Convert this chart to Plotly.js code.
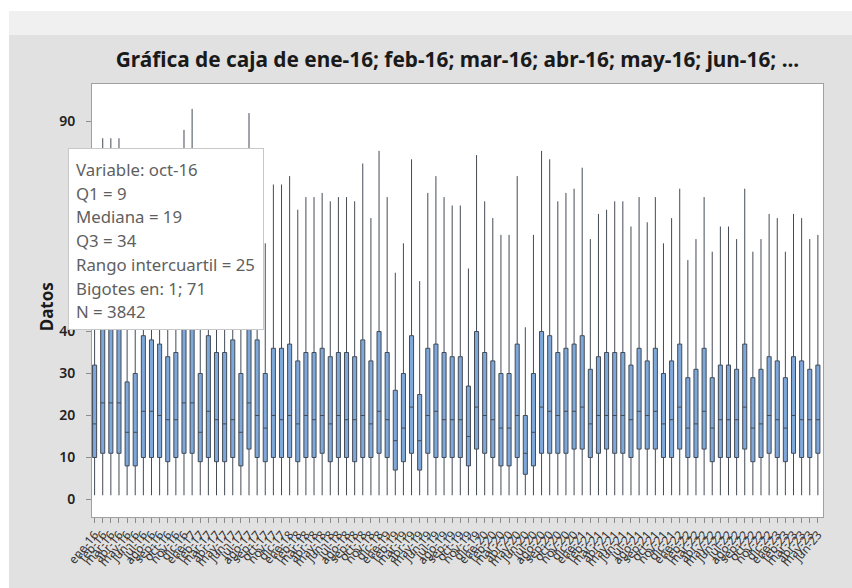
<!DOCTYPE html>
<html>
<head>
<meta charset="utf-8">
<script src="https://cdn.plot.ly/plotly-3.0.1.min.js"></script>
<style>
  html, body { margin: 0; padding: 0; background: #ffffff; width: 852px; height: 588px; overflow: hidden; }
  #strip { position: absolute; left: 9px; top: 11px; width: 843px; height: 24px; background: #f0f0f0; border-bottom: 1px solid #e6e6e6; }
  #chart { position: absolute; left: 9px; top: 35px; width: 843px; height: 553px; }
</style>
</head>
<body>
<div id="strip"></div>
<div id="chart"></div>
<script>
// Categories (months)
const categories = [
  "ene-16","feb-16","mar-16","abr-16","may-16","jun-16","jul-16","ago-16","sep-16","oct-16","nov-16","dic-16",
  "ene-17","feb-17","mar-17","abr-17","may-17","jun-17","jul-17","ago-17","sep-17","oct-17","nov-17","dic-17",
  "ene-18","feb-18","mar-18","abr-18","may-18","jun-18","jul-18","ago-18","sep-18","oct-18","nov-18","dic-18",
  "ene-19","feb-19","mar-19","abr-19","may-19","jun-19","jul-19","ago-19","sep-19","oct-19","nov-19","dic-19",
  "ene-20","feb-20","mar-20","abr-20","may-20","jun-20","jul-20","ago-20","sep-20","oct-20","nov-20","dic-20",
  "ene-21","feb-21","mar-21","abr-21","may-21","jun-21","jul-21","ago-21","sep-21","oct-21","nov-21","dic-21",
  "ene-22","feb-22","mar-22","abr-22","may-22","jun-22","jul-22","ago-22","sep-22","oct-22","nov-22","dic-22",
  "ene-23","feb-23","mar-23","abr-23","may-23","jun-23"
];

const q1 = [
  10,11,11,11,8,8,10,10,10,9,10,11,
  11,9,10,9,9,10,8,12,10,9,10,10,
  10,9,10,10,11,9,10,10,9,10,10,11,
  10,7,9,11,7,11,10,10,10,10,8,12,
  11,10,8,8,10,6,8,11,11,11,11,12,
  12,10,11,12,11,11,10,12,12,12,10,10,
  12,10,10,12,9,10,10,10,12,9,10,11,
  10,9,11,10,10,11
];

const medians = [
  18,23,23,23,16,16,21,21,20,19,19,23,
  23,16,21,19,18,19,16,23,20,17,20,19,
  20,18,20,19,20,18,20,19,19,20,18,21,
  19,14,17,22,14,20,21,19,19,19,15,22,
  20,19,17,17,20,11,16,22,21,20,21,21,
  22,18,20,20,20,20,19,21,20,21,18,19,
  22,17,18,21,17,19,19,19,22,17,18,20,
  19,17,20,19,19,19
];

const q3 = [
  32,41,41,41,28,30,39,38,37,34,35,42,
  44,30,39,35,35,38,30,44,38,30,36,36,
  37,33,35,35,36,34,35,35,34,38,33,40,
  35,26,30,39,25,36,37,35,34,34,27,40,
  35,33,30,30,37,20,30,40,39,35,36,37,
  39,31,34,35,35,35,32,36,33,36,30,33,
  37,29,31,36,29,32,32,31,37,29,31,34,
  33,29,34,33,31,32
];

const whiskerLow = [
  1,1,1,1,1,1,1,1,1,1,1,1,
  1,1,1,1,1,1,1,1,1,1,1,1,
  1,1,1,1,1,1,1,1,1,1,1,1,
  1,1,1,1,1,1,1,1,1,1,1,1,
  1,1,1,1,1,1,1,1,1,1,1,1,
  1,1,1,1,1,1,1,1,1,1,1,1,
  1,1,1,1,1,1,1,1,1,1,1,1,
  1,1,1,1,1,1
];

const whiskerHigh = [
  65,86,86,86,58,63,82,80,77,71,72,88,
  93,61,82,74,74,80,63,92,80,61,75,75,
  77,69,72,72,73,71,72,72,71,80,67,83,
  72,54,61,81,52,73,77,72,70,70,55,82,
  71,67,63,63,77,41,63,83,81,71,73,74,
  79,62,68,69,71,71,65,72,66,72,61,67,
  74,57,62,72,59,65,65,62,74,59,62,68,
  67,59,68,67,62,63
];

// y ticks; labels 50-80 are hidden behind the tooltip in the reference
const yTicks = [0,10,20,30,40,50,60,70,80,90];
const yTickText = ["0","10","20","30","40","","","","","90"];

const tooltipLines = [
  "Variable: oct-16",
  "Q1 = 9",
  "Mediana = 19",
  "Q3 = 34",
  "Rango intercuartil = 25",
  "Bigotes en: 1; 71",
  "N = 3842"
];

// geometry helpers (page pixels -> paper coords)
const PL = 91.7, PR = 823, PT = 84, PB = 517;
const px = X => (X - PL) / (PR - PL);
const py = Y => (PB - Y) / (PB - PT);

const trace = {
  type: 'box',
  x: categories,
  q1: q1,
  median: medians,
  q3: q3,
  lowerfence: whiskerLow,
  upperfence: whiskerHigh,
  boxpoints: false,
  width: 0.5,
  whiskerwidth: 0,
  fillcolor: '#7ea7da',
  line: { color: '#434b55', width: 1 },
  hoverinfo: 'skip',
  showlegend: false
};

const FONT = 'Noto Sans, Open Sans, sans-serif';

const annotations = [{
  xref: 'paper', yref: 'paper',
  x: px(68), y: py(148), xanchor: 'left', yanchor: 'top',
  text: ' ', showarrow: false,
  width: 194, height: 180, borderpad: 0,
  bgcolor: '#ffffff', bordercolor: '#c8c8c8', borderwidth: 1
}].concat(tooltipLines.map((t, i) => ({
  xref: 'paper', yref: 'paper',
  x: px(73.5), y: py(169.5 + i * 23.7),
  xanchor: 'left', yanchor: 'middle',
  text: t, showarrow: false,
  font: { family: FONT, size: 16.8, color: '#5f5f5f' }
}))).concat([{
  xref: 'paper', yref: 'paper',
  x: px(46), y: py(307), xanchor: 'center', yanchor: 'middle',
  text: 'Datos', textangle: -90, showarrow: false,
  font: { family: FONT, size: 17, weight: 'bold', color: '#1a1a1a' }
}]);

const layout = {
  width: 843, height: 553,
  margin: { l: 83, r: 29, t: 49, b: 71, pad: 0 },
  paper_bgcolor: '#e1e1e1',
  plot_bgcolor: '#ffffff',
  font: { family: FONT, color: '#222222' },
  title: {
    text: 'Gráfica de caja de ene-16; feb-16; mar-16; abr-16; may-16; jun-16; ...',
    x: 0.5, xref: 'paper', xanchor: 'center',
    y: 1 - 25 / 553, yref: 'container', yanchor: 'middle',
    font: { family: FONT, size: 20.8, weight: 'bold', color: '#1a1a1a' }
  },
  xaxis: {
    type: 'category',
    range: [-0.32, 89.63],
    tickmode: 'linear', tick0: 0, dtick: 1,
    tickangle: -50,
    ticks: 'outside', ticklen: 5, tickcolor: '#8c8c8c', tickwidth: 1,
    tickfont: { size: 12, color: '#333333' },
    showline: true, linecolor: '#a0a0a0', linewidth: 1, mirror: true,
    showgrid: false, zeroline: false, fixedrange: true, automargin: false
  },
  yaxis: {
    range: [-4.17, 98.93],
    tickmode: 'array', tickvals: yTicks, ticktext: yTickText,
    ticks: 'outside', ticklen: 5, tickcolor: '#8c8c8c', tickwidth: 1,
    ticklabelstandoff: 8,
    tickfont: { size: 14, color: '#222222', weight: 600 },
    showline: true, linecolor: '#a0a0a0', linewidth: 1, mirror: true,
    showgrid: false, zeroline: false, fixedrange: true, automargin: false
  },
  annotations: annotations
};

Plotly.newPlot('chart', [trace], layout, { displayModeBar: false, staticPlot: true });
</script>
</body>
</html>
